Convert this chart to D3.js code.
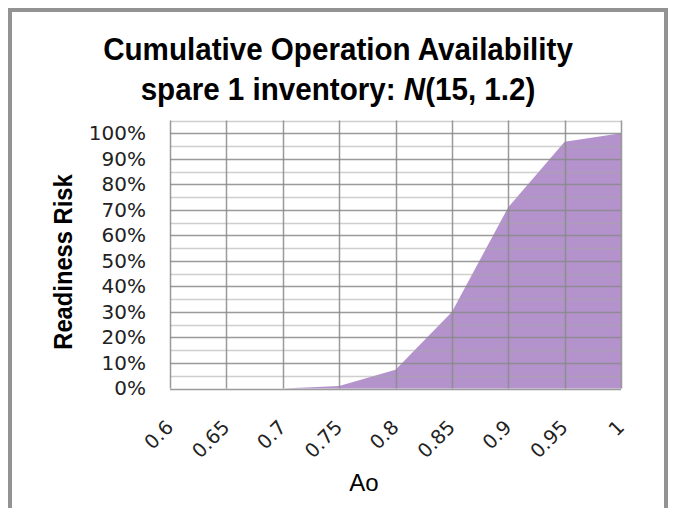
<!DOCTYPE html>
<html><head><meta charset="utf-8">
<script src="https://cdn.jsdelivr.net/npm/d3@7"></script>
<style>body{margin:0;background:#fff}svg{display:block}</style>
</head><body>
<svg id="c" width="676" height="508"></svg>
<script>
const categories = [0.6, 0.65, 0.7, 0.75, 0.8, 0.85, 0.9, 0.95, 1];
const categoryLabels = ["0.6", "0.65", "0.7", "0.75", "0.8", "0.85", "0.9", "0.95", "1"];
const readinessRisk = [0, 0, 0, 0.01, 0.073, 0.30, 0.71, 0.967, 1.0];
const yTicks = [0, 0.1, 0.2, 0.3, 0.4, 0.5, 0.6, 0.7, 0.8, 0.9, 1.0];
const yMinorTicks = [0.05, 0.15, 0.25, 0.35, 0.45, 0.55, 0.65, 0.75, 0.85, 0.95, 1.05];
const titleLines = ["Cumulative Operation Availability", "spare 1 inventory: "];
const yTitle = "Readiness Risk";
const xTitle = "Ao";

const svg = d3.select("#c");
const L = 170, R = 621, T = 120.5, B = 388.5;

// frame
svg.append("rect").attr("x", 10).attr("y", 10).attr("width", 656).attr("height", 520)
  .attr("fill", "none").attr("stroke", "#939393").attr("stroke-width", 4);

const x = d3.scalePoint().domain(categories).range([L, R]);
const y = d3.scaleLinear().domain([0, 1.05]).range([B, T]);

// area
const area = d3.area().x((d, i) => x(categories[i])).y0(y(0)).y1(d => y(d));
svg.append("path").datum(readinessRisk).attr("d", area)
  .attr("fill", "#7030a0").attr("fill-opacity", 0.52);

// minor gridlines
svg.append("g").selectAll("line").data(yMinorTicks).join("line")
  .attr("x1", L).attr("x2", R).attr("y1", d => Math.round(y(d)) + 0.5).attr("y2", d => Math.round(y(d)) + 0.5)
  .attr("stroke", "#a8a8a8").attr("stroke-opacity", 0.55).attr("stroke-width", 1.5);
// major gridlines
svg.append("g").selectAll("line").data(yTicks).join("line")
  .attr("x1", L).attr("x2", R).attr("y1", d => Math.round(y(d)) + 0.5).attr("y2", d => Math.round(y(d)) + 0.5)
  .attr("stroke", "#8a8a8a").attr("stroke-opacity", 0.85).attr("stroke-width", 1.5);
// vertical gridlines
svg.append("g").selectAll("line").data(categories).join("line")
  .attr("x1", d => Math.round(x(d)) + 0.5).attr("x2", d => Math.round(x(d)) + 0.5).attr("y1", T).attr("y2", B)
  .attr("stroke", "#8a8a8a").attr("stroke-opacity", 0.85).attr("stroke-width", 1.5);

// y axis labels
const yAxis = d3.axisLeft(y).tickValues(yTicks).tickFormat(d3.format(".0%")).tickSize(0).tickPadding(24);
const gy = svg.append("g").attr("transform", `translate(${L},0)`).call(yAxis);
gy.select(".domain").remove();
gy.selectAll("text").attr("font-family", "DejaVu Sans").attr("font-size", 20).attr("fill", "#222");

// x axis labels
const xAxis = d3.axisBottom(x).tickFormat((d, i) => categoryLabels[i]).tickSize(0);
const gx = svg.append("g").attr("transform", `translate(0,${B})`).call(xAxis);
gx.select(".domain").remove();
gx.selectAll("text").attr("font-family", "DejaVu Sans").attr("font-size", 19.5).attr("fill", "#222")
  .attr("text-anchor", "end").attr("dy", 0).attr("y", 0)
  .attr("transform", "translate(4,40) rotate(-45)");

// titles
const tg = svg.append("g").attr("transform", "translate(338,0) scale(0.955,1)");
const t = tg.append("text").attr("text-anchor", "middle")
  .attr("font-family", "Liberation Sans, Arial, sans-serif").attr("font-weight", "bold").attr("font-size", 31).attr("fill", "#000");
t.append("tspan").attr("x", 0).attr("y", 60).text(titleLines[0]);
const t2 = t.append("tspan").attr("x", 0).attr("y", 100);
t2.append("tspan").text(titleLines[1]);
t2.append("tspan").attr("font-style", "italic").text("N");
t2.append("tspan").text("(15, 1.2)");

svg.append("g").attr("transform", "translate(72,262) rotate(-90)")
  .append("text").attr("text-anchor", "middle").attr("transform", "scale(0.95,1)")
  .attr("font-family", "Liberation Sans, Arial, sans-serif").attr("font-weight", "bold").attr("font-size", 25).text(yTitle);

svg.append("text").attr("x", 364).attr("y", 491).attr("text-anchor", "middle")
  .attr("font-family", "Liberation Sans, Arial, sans-serif").attr("font-size", 24).text(xTitle);
</script>
</body></html>
